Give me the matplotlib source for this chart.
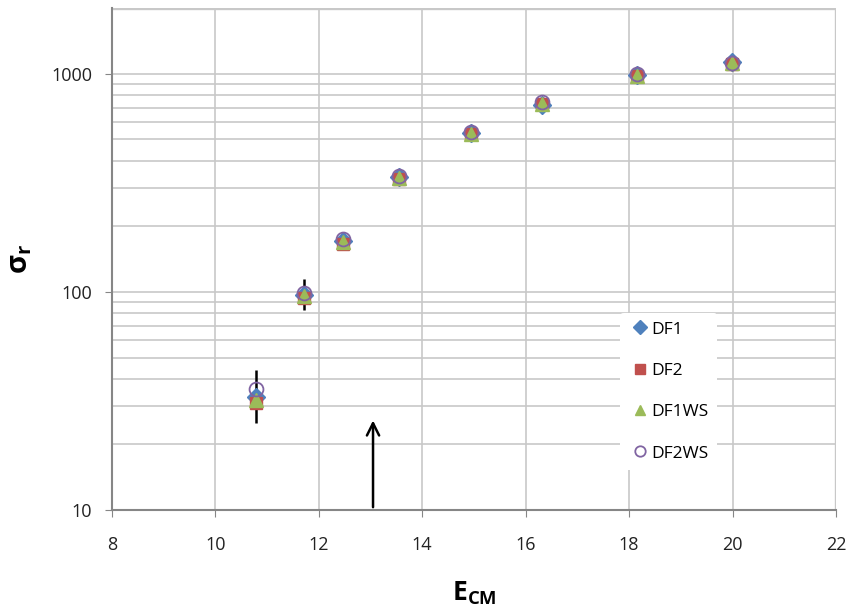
import matplotlib
matplotlib.use("Agg")
import matplotlib.pyplot as plt
from matplotlib.ticker import FixedLocator, NullFormatter, FixedFormatter

plt.rcParams['font.family'] = ['Open Sans', 'DejaVu Sans']
plt.rcParams['mathtext.fontset'] = 'custom'
plt.rcParams['mathtext.rm'] = 'Open Sans'
plt.rcParams['mathtext.bf'] = 'Open Sans:bold'
plt.rcParams['mathtext.it'] = 'Open Sans:italic'

# Data
e_cm = [10.78, 11.72, 12.46, 13.56, 14.94, 16.32, 18.15, 19.99]
df1 = [33, 97, 172, 338, 536, 720, 990, 1130]
df2 = [31, 94, 166, 330, 530, 730, 975, 1110]
df1ws = [32, 96, 170, 334, 532, 728, 980, 1115]
df2ws = [36, 99, 174, 340, 540, 740, 995, 1125]
err_low = [8, 14, 0, 0, 0, 0, 0, 0]
err_high = [11, 17, 0, 0, 0, 0, 0, 0]
arrow_x = 13.05
arrow_tip = 26.5
x_ticks = [8, 10, 12, 14, 16, 18, 20, 22]
y_major = [10, 100, 1000]

fig = plt.figure(figsize=(8.47, 6.12), dpi=100)
ax = fig.add_axes([0.132, 0.1667, 0.855, 0.820])

ax.set_yscale('log')
ax.set_xlim(8, 22)
ax.set_ylim(10, 2000)

grid_c = '#c8c8c8'
minor = [m * d for d in (10, 100, 1000) for m in range(2, 10) if m * d < 2000]
for v in minor + y_major:
    ax.axhline(v, color=grid_c, lw=1.2, zorder=0)
ax.axhline(2000, color=grid_c, lw=2.4, zorder=0)
for xv in x_ticks[1:-1]:
    ax.axvline(xv, color=grid_c, lw=1.2, zorder=0)
ax.axvline(22, color=grid_c, lw=2.4, zorder=0)

ax.errorbar(e_cm, df1, yerr=[err_low, err_high], fmt='none', ecolor='black',
            elinewidth=1.8, capsize=0, zorder=2)
ax.plot(e_cm, df1, 'D', color='#4F81BD', ms=9, label='DF1', zorder=3)
ax.plot(e_cm, df2, 's', color='#C0504D', ms=9, label='DF2', zorder=3)
ax.plot(e_cm, df1ws, '^', color='#9BBB59', ms=10, label='DF1WS', zorder=4)
ax.plot(e_cm, df2ws, 'o', mfc='none', mec='#8064A2', mew=1.3, ms=10,
        label='DF2WS', zorder=5)

ax.annotate('', xy=(arrow_x, arrow_tip), xytext=(arrow_x, 10),
            arrowprops=dict(arrowstyle='->', color='black', lw=1.8,
                            mutation_scale=22), zorder=6)

ax.xaxis.set_major_locator(FixedLocator(x_ticks))
ax.set_xticklabels([str(t) for t in x_ticks])
ax.yaxis.set_major_locator(FixedLocator(y_major))
ax.yaxis.set_major_formatter(FixedFormatter([str(v) for v in y_major]))
ax.yaxis.set_minor_locator(FixedLocator(minor))
ax.yaxis.set_minor_formatter(NullFormatter())
ax.tick_params(axis='y', which='minor', length=0)
ax.tick_params(axis='both', which='major', labelsize=13, length=5,
               color='#868686', direction='out', labelcolor='#222222')
ax.tick_params(axis='y', which='major', pad=9)
ax.tick_params(axis='x', which='major', pad=14)

for s in ('top', 'right'):
    ax.spines[s].set_visible(False)
for s in ('left', 'bottom'):
    ax.spines[s].set_color('#868686')
    ax.spines[s].set_linewidth(1.5)

ax.set_xlabel(r'$\mathbf{E_{CM}}$', fontsize=19, labelpad=18)
ax.set_ylabel(r'$\mathbf{\sigma_{r}}$', fontsize=21, labelpad=12)

leg = ax.legend(loc='lower left', bbox_to_anchor=(0.69, 0.062), frameon=True,
                fontsize=12.5, handletextpad=0.0, labelspacing=1.45,
                borderpad=0.5, handlelength=1.3, markerscale=0.75)
leg.get_frame().set_edgecolor('none')
leg.get_frame().set_facecolor('white')
leg.get_frame().set_alpha(1)

fig.savefig('out.png', dpi=100)
